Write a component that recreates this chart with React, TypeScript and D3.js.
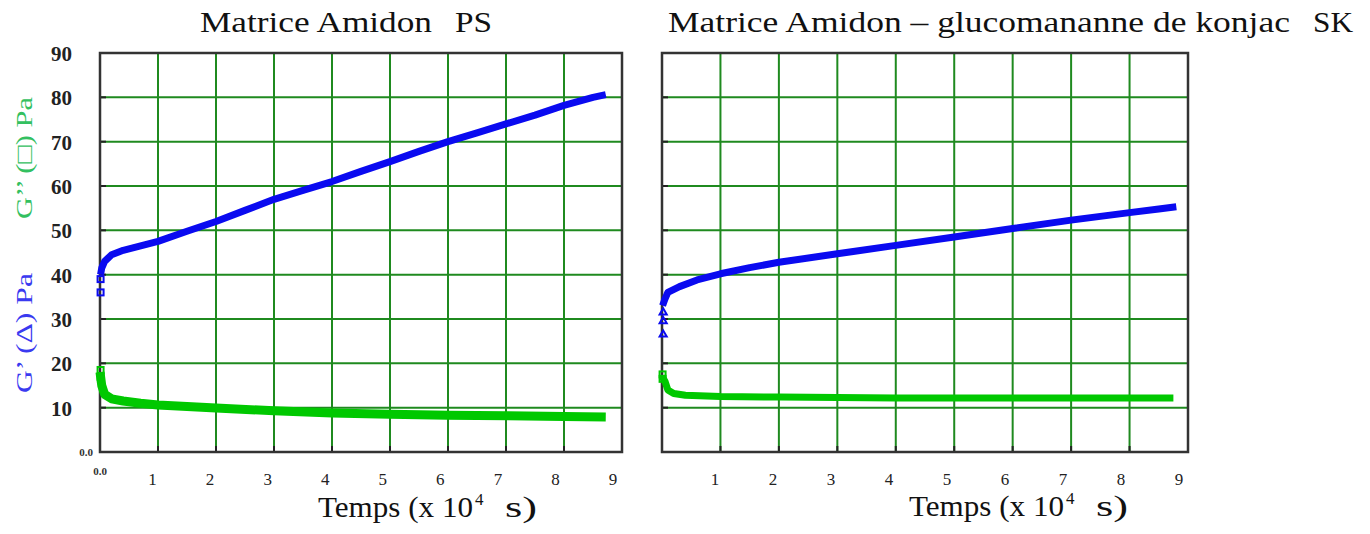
import * as d3 from 'd3'

// axis ticks
const X_TICKS = [1, 2, 3, 4, 5, 6, 7, 8, 9]
const Y_TICKS = [10, 20, 30, 40, 50, 60, 70, 80, 90]
const GRID_X = [1, 2, 3, 4, 5, 6, 7, 8]
const GRID_Y = [10, 20, 30, 40, 50, 60, 70, 80]

// Matrice Amidon PS - G' (blue) and G'' (green), temps x 10^4 s
const PS_G1_T = [0.01, 0.03, 0.08, 0.2, 0.4, 0.7, 1, 1.5, 2, 2.5, 3, 3.5, 4, 4.5, 5, 5.5, 6, 6.5, 7, 7.5, 8, 8.5, 8.72]
const PS_G1 = [40, 41.5, 43, 44.5, 45.5, 46.5, 47.5, 49.8, 52, 54.5, 57, 59, 61, 63.3, 65.5, 67.8, 70, 72, 74, 76, 78.2, 80, 80.6]
const PS_G1_MARK_T = [0.01, 0.01]
const PS_G1_MARK = [36, 39]
const PS_G2_T = [0, 0.03, 0.08, 0.2, 0.4, 0.7, 1, 2, 3, 4, 5, 6, 7, 8, 8.72]
const PS_G2 = [18, 15, 13, 12, 11.5, 11, 10.6, 9.9, 9.3, 8.8, 8.5, 8.3, 8.2, 8.0, 7.9]
const PS_G2_MARK_T = [0.01, 0.01]
const PS_G2_MARK = [18.5, 17]

// Matrice Amidon - glucomananne de konjac SK
const SK_G1_T = [0.01, 0.05, 0.1, 0.3, 0.6, 1, 1.5, 2, 3, 4, 5, 6, 7, 8, 8.5, 8.8]
const SK_G1 = [33, 34.5, 36, 37.3, 38.8, 40.2, 41.6, 42.8, 44.7, 46.6, 48.5, 50.4, 52.3, 54, 54.8, 55.3]
const SK_G1_MARK_T = [0.02, 0.02, 0.02]
const SK_G1_MARK = [26.5, 29.5, 31.5]
const SK_G2_T = [0, 0.05, 0.1, 0.2, 0.4, 1, 2, 3, 4, 5, 6, 7, 8, 8.75]
const SK_G2 = [17, 16, 14, 13.2, 12.8, 12.5, 12.4, 12.3, 12.2, 12.2, 12.2, 12.2, 12.2, 12.2]
const SK_G2_MARK_T = [0.01, 0.01]
const SK_G2_MARK = [17.5, 16.5]

const SERIF = '"Liberation Serif", "Times New Roman", serif'
const GRID = '#1f8a1f'
const BLUE = '#0a0af0'
const GREEN = '#00c800'

interface PanelProps {
  x0: number
  x1: number
  g1t: number[]
  g1: number[]
  g1mt: number[]
  g1m: number[]
  g1Marker: 'square' | 'triangle'
  g2t: number[]
  g2: number[]
  g2mt: number[]
  g2m: number[]
  g1Width: number
  g2Width: number
  yLabels: boolean
  xZero: boolean
  titleY: number
  titleX: number
}

function Panel(p: PanelProps) {
  const x = d3.scaleLinear().domain([0, 9]).range([p.x0, p.x1])
  // tick labels sit a bit left of the grid lines in the original
  const xl = d3.scaleLinear().domain([0, 9]).range([p.x0 - 5, p.x1 - 9])
  const y = d3.scaleLinear().domain([0, 90]).range([452, 53])
  const line = d3.line<[number, number]>().x(d => x(d[0])).y(d => y(d[1]))
  const blue = p.g1t.map((t, i) => [t, p.g1[i]] as [number, number])
  const green = p.g2t.map((t, i) => [t, p.g2[i]] as [number, number])
  const tri = d3.symbol().type(d3.symbolTriangle).size(22)()
  return (
    <g>
      {GRID_X.map(v => (
        <line key={'gx' + v} x1={x(v)} x2={x(v)} y1={y(90)} y2={y(0)} stroke={GRID} strokeWidth={2} />
      ))}
      {GRID_Y.map(v => (
        <line key={'gy' + v} x1={x(0)} x2={x(9)} y1={y(v)} y2={y(v)} stroke={GRID} strokeWidth={2} />
      ))}
      {GRID_X.map(v => (
        <line key={'tx' + v} x1={x(v)} x2={x(v)} y1={y(0)} y2={y(0) - 6} stroke="#222" strokeWidth={2} />
      ))}
      {GRID_Y.map(v => (
        <line key={'ty' + v} x1={x(0)} x2={x(0) + 6} y1={y(v)} y2={y(v)} stroke="#222" strokeWidth={2} />
      ))}
      <rect x={x(0)} y={y(90)} width={x(9) - x(0)} height={y(0) - y(90)} fill="none" stroke="#333" strokeWidth={2.5} />

      <path d={line(green) || ''} fill="none" stroke={GREEN} strokeWidth={p.g2Width} strokeLinejoin="round" />
      {p.g2mt.map((t, i) => (
        <rect key={'m2' + i} x={x(t) - 3} y={y(p.g2m[i]) - 3} width={6} height={6} fill="none" stroke={GREEN} strokeWidth={2} />
      ))}
      <path d={line(blue) || ''} fill="none" stroke={BLUE} strokeWidth={p.g1Width} strokeLinejoin="round" />
      {p.g1mt.map((t, i) =>
        p.g1Marker === 'square' ? (
          <rect key={'m1' + i} x={x(t) - 3} y={y(p.g1m[i]) - 3} width={6} height={6} fill="none" stroke={BLUE} strokeWidth={2} />
        ) : (
          <path key={'m1' + i} d={tri || ''} transform={`translate(${x(t)},${y(p.g1m[i])})`} fill="none" stroke={BLUE} strokeWidth={2} />
        )
      )}

      {X_TICKS.map(v => (
        <text key={'xl' + v} x={xl(v)} y={485} textAnchor="middle" fontFamily={SERIF} fontSize={17} fill="#222">{v}</text>
      ))}
      {p.xZero && (
        <text x={x(0)} y={475} textAnchor="middle" fontFamily={SERIF} fontSize={11} fontWeight="bold" fill="#333">0.0</text>
      )}
      {p.yLabels && Y_TICKS.map(v => (
        <text key={'yl' + v} x={72} y={y(v) + 8} textAnchor="end" fontFamily={SERIF} fontSize={21} fontWeight="bold" fill="#222">{v}</text>
      ))}
      {p.yLabels && (
        <text x={93} y={456} textAnchor="end" fontFamily={SERIF} fontSize={11} fontWeight="bold" fill="#333">0.0</text>
      )}

      <text x={p.titleX} y={p.titleY} fontFamily={SERIF} fontSize={30} fill="#111" textLength={155} lengthAdjust="spacingAndGlyphs">Temps (x 10</text>
      <text x={p.titleX + 157} y={p.titleY - 12} fontFamily={SERIF} fontSize={17} fill="#111">4</text>
      <text x={p.titleX + 187} y={p.titleY} fontFamily={SERIF} fontSize={30} fill="#111" textLength={32} lengthAdjust="spacingAndGlyphs">s)</text>
    </g>
  )
}

export default function App() {
  return (
    <svg width={1370} height={534} style={{ position: 'absolute', left: 0, top: 0, background: '#fff' }}>
      <text x={200} y={32} fontFamily={SERIF} fontSize={29} fill="#111" textLength={232} lengthAdjust="spacingAndGlyphs">Matrice Amidon</text>
      <text x={455} y={32} fontFamily={SERIF} fontSize={29} fill="#111" textLength={37} lengthAdjust="spacingAndGlyphs">PS</text>
      <text x={668} y={32} fontFamily={SERIF} fontSize={29} fill="#111" textLength={622} lengthAdjust="spacingAndGlyphs">Matrice Amidon – glucomananne de konjac</text>
      <text x={1313} y={32} fontFamily={SERIF} fontSize={29} fill="#111" textLength={40} lengthAdjust="spacingAndGlyphs">SK</text>

      <text transform="translate(32,158) rotate(-90)" textAnchor="middle" fontFamily={SERIF} fontSize={24} fill="#33c060" textLength={122} lengthAdjust="spacingAndGlyphs">G’’ (□) Pa</text>
      <text transform="translate(32,333) rotate(-90)" textAnchor="middle" fontFamily={SERIF} fontSize={24} fill="#3a3af0" textLength={120} lengthAdjust="spacingAndGlyphs">G’ (Δ) Pa</text>

      <Panel
        x0={100} x1={622}
        g1t={PS_G1_T} g1={PS_G1} g1mt={PS_G1_MARK_T} g1m={PS_G1_MARK} g1Marker="square"
        g2t={PS_G2_T} g2={PS_G2} g2mt={PS_G2_MARK_T} g2m={PS_G2_MARK}
        g1Width={7} g2Width={9}
        yLabels={true} xZero={true}
        titleX={318} titleY={517}
      />
      <Panel
        x0={662} x1={1188}
        g1t={SK_G1_T} g1={SK_G1} g1mt={SK_G1_MARK_T} g1m={SK_G1_MARK} g1Marker="triangle"
        g2t={SK_G2_T} g2={SK_G2} g2mt={SK_G2_MARK_T} g2m={SK_G2_MARK}
        g1Width={7} g2Width={7}
        yLabels={false} xZero={false}
        titleX={909} titleY={516}
      />
    </svg>
  )
}
